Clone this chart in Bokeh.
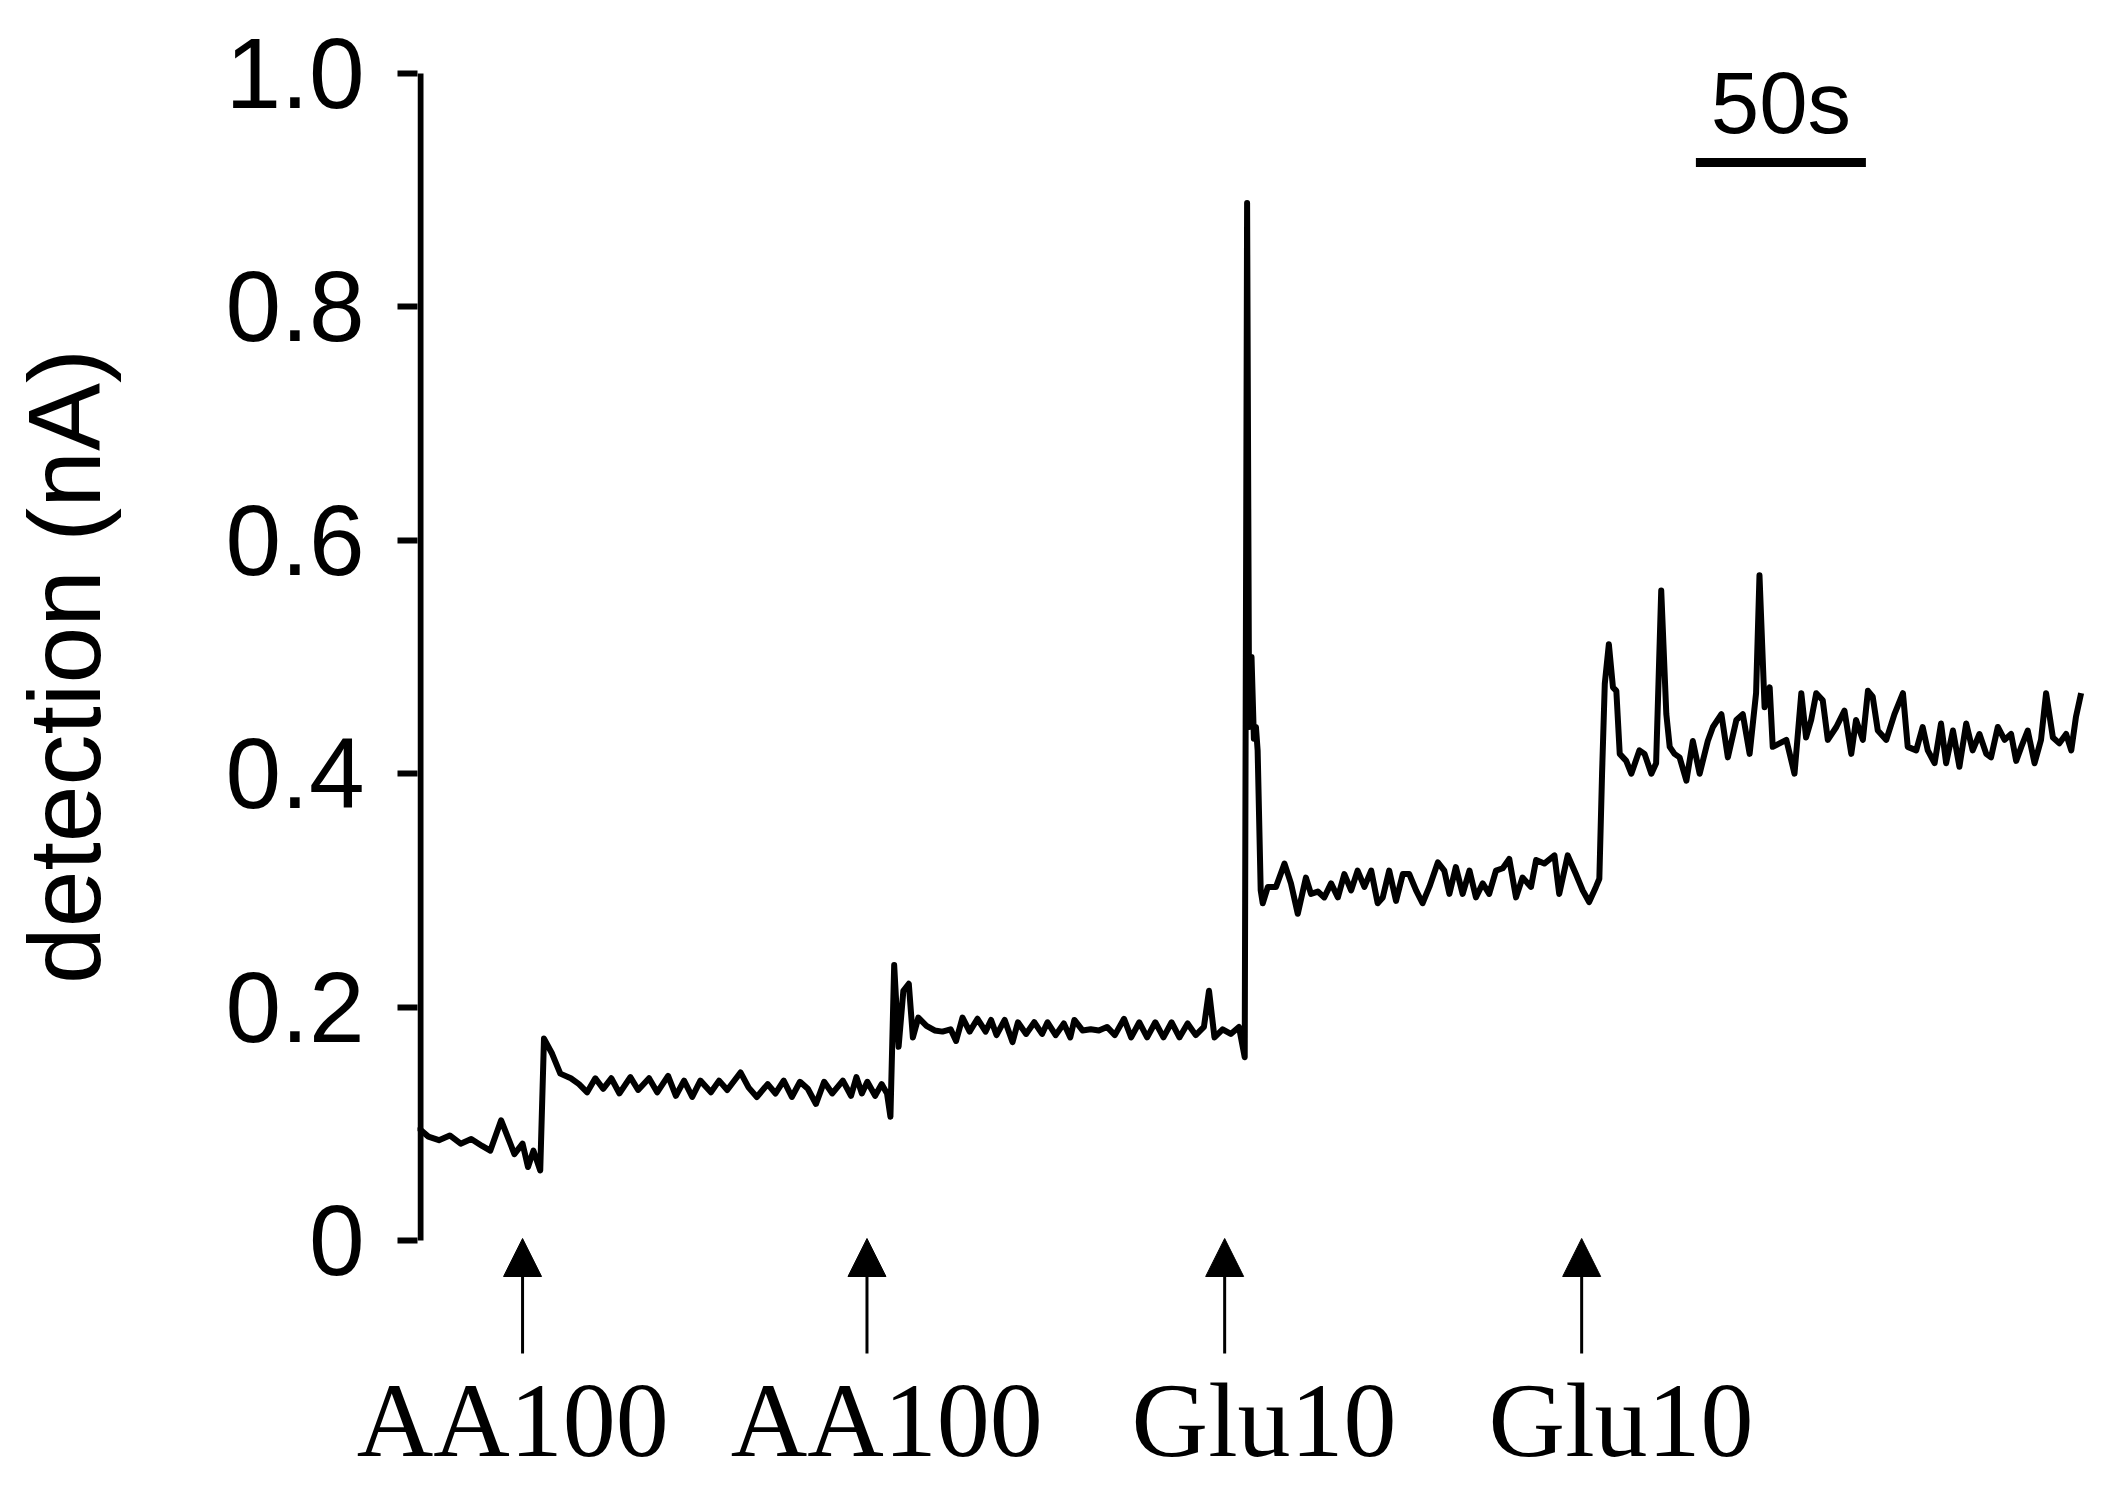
import math
from bokeh.plotting import figure
from bokeh.models import Range1d, FixedTicker, ColumnDataSource, Arrow, NormalHead
from bokeh.layouts import row
from bokeh.embed import file_html
from bokeh.resources import INLINE
from bokeh.core.properties import value

# ---------------- data ----------------
time_s = [
    0.0, 3.2, 6.3, 9.5, 12.7, 15.8, 19.0, 21.4, 24.6, 26.9, 28.5, 30.9, 32.5, 34.1, 36.1,
    37.2, 39.6, 42.0, 45.1, 47.5, 49.9, 52.3, 54.6, 57.0, 59.4, 62.6, 64.9, 68.1, 70.5,
    73.7, 76.0, 78.4, 80.8, 83.2, 86.3, 88.7, 91.1, 95.0, 97.4, 99.8, 103.0, 105.3, 107.7,
    110.1, 112.5, 114.8, 117.2, 119.6, 122.0, 125.1, 127.5, 129.1, 130.7, 132.3, 134.6,
    136.5, 138.1, 139.1,
    140.2, 141.5, 142.9, 144.5, 145.7, 147.3, 149.7, 152.1, 154.4, 156.8, 158.4, 160.3,
    162.4, 164.7, 167.1, 168.7, 170.3, 172.7, 175.0, 176.6, 179.0, 181.4, 183.7, 185.3,
    187.7, 190.1, 192.0, 193.2, 195.6, 198.0, 200.4, 202.8, 205.1, 207.8, 209.9, 212.3,
    214.6, 217.0, 219.4, 221.8, 224.1, 226.5, 228.9, 231.3, 232.8, 234.4, 236.8, 239.2,
    241.6, 243.3,
    244.0, 244.6, 245.3, 246.0, 246.6, 247.1, 248.0,
    248.6, 250.1, 252.5, 255.0, 256.9, 258.9, 261.3, 262.8, 264.8, 266.7, 268.7, 270.7,
    272.6, 274.6, 276.5, 278.5, 280.5, 282.4, 283.9, 285.8, 287.8, 289.8, 291.7, 293.7,
    295.6, 297.6, 300.1, 302.0, 303.5, 305.4, 307.4, 309.4, 311.3, 313.3, 315.2, 317.2,
    319.2, 321.1, 323.1, 325.0, 327.5, 329.0, 331.4, 334.4, 335.8, 338.3, 340.7, 342.7,
    344.6, 346.6,
    347.6, 348.4, 349.2, 350.4, 351.6, 352.6, 353.6, 355.5, 357.0, 359.4, 360.9, 362.9,
    364.3, 365.8, 367.3, 368.3, 369.7, 371.2, 373.2, 375.1, 377.1, 379.5, 381.0, 383.5,
    385.4, 387.9, 389.8, 391.8, 393.7, 394.7, 396.2, 397.7, 398.6, 400.6, 402.6, 405.0,
    407.0, 408.4, 409.9, 411.4, 413.3, 414.8, 417.3, 419.7, 421.7, 423.1, 425.1, 426.6,
    428.0, 429.5, 432.0, 434.4, 436.9, 438.3, 440.8, 442.7, 444.2, 446.2, 448.1, 449.6,
    451.6, 453.5, 455.5, 457.4, 459.4, 461.4, 462.8, 464.8, 466.8, 468.7, 470.2, 471.7,
    473.6, 475.6, 477.5, 479.0, 481.0, 482.9, 484.9, 486.4, 487.8, 489.3,
]

current_nA = [
    0.097, 0.089, 0.086, 0.090, 0.083, 0.087, 0.081, 0.077, 0.103, 0.086, 0.074, 0.083, 0.063, 0.077, 0.060,
    0.173, 0.160, 0.143, 0.139, 0.134, 0.127, 0.139, 0.130, 0.139, 0.126, 0.140, 0.129, 0.139, 0.127,
    0.141, 0.124, 0.137, 0.123, 0.137, 0.127, 0.137, 0.129, 0.144, 0.131, 0.123, 0.134, 0.126, 0.137,
    0.123, 0.136, 0.130, 0.117, 0.136, 0.126, 0.137, 0.124, 0.140, 0.126, 0.136, 0.124,
    0.134, 0.126, 0.106,
    0.236, 0.166, 0.214, 0.220, 0.174, 0.191, 0.184, 0.180, 0.179, 0.181, 0.171, 0.191,
    0.179, 0.190, 0.179, 0.189, 0.176, 0.189, 0.170, 0.187, 0.177, 0.187, 0.177, 0.187,
    0.176, 0.186, 0.174, 0.189, 0.180, 0.181, 0.180, 0.183, 0.176, 0.190, 0.174, 0.187,
    0.174, 0.187, 0.174, 0.187, 0.174, 0.186, 0.176, 0.183, 0.214, 0.174, 0.181, 0.177,
    0.183, 0.157,
    0.889, 0.440, 0.500, 0.430, 0.440, 0.420, 0.300,
    0.289, 0.303, 0.303, 0.323, 0.306, 0.280, 0.311, 0.297, 0.299, 0.294, 0.306, 0.294,
    0.314, 0.300, 0.317, 0.303, 0.317, 0.289, 0.294, 0.317, 0.291, 0.314, 0.314, 0.300,
    0.289, 0.303, 0.324, 0.317, 0.297, 0.320, 0.297, 0.317, 0.294, 0.306, 0.297, 0.317,
    0.319, 0.327, 0.294, 0.311, 0.303, 0.326, 0.323, 0.330, 0.297, 0.330, 0.314, 0.300,
    0.290, 0.303,
    0.310, 0.400, 0.477, 0.511, 0.474, 0.471, 0.417, 0.411, 0.400, 0.420, 0.417, 0.400,
    0.409, 0.557, 0.451, 0.423, 0.417, 0.414, 0.394, 0.428, 0.400, 0.428, 0.440, 0.451,
    0.414, 0.446, 0.451, 0.417, 0.469, 0.570, 0.457, 0.474, 0.423, 0.426, 0.429, 0.400,
    0.469, 0.431, 0.446, 0.469, 0.463, 0.429, 0.440, 0.454, 0.417, 0.446, 0.429, 0.471,
    0.466, 0.437, 0.429, 0.451, 0.469, 0.423, 0.420, 0.440, 0.420, 0.409, 0.443, 0.409,
    0.437, 0.406, 0.443, 0.420, 0.434, 0.417, 0.414, 0.440, 0.429, 0.434, 0.411, 0.423,
    0.437, 0.409, 0.429, 0.469, 0.431, 0.426, 0.434, 0.420, 0.449, 0.469,
]

y_ticks = [0, 0.2, 0.4, 0.6, 0.8, 1.0]
y_tick_labels = ["0", "0.2", "0.4", "0.6", "0.8", "1.0"]
y_label = "detection (nA)"

injection_times = [30.9, 132.2, 237.4, 342.4]
injection_labels = ["AA100", "AA100", "Glu10", "Glu10"]
injection_label_times = [28, 138, 249, 354]

scale_bar_start = 376.0
scale_bar_seconds = 50.0
scale_bar_text = "50s"

# ---------------- layout (pixels) ----------------
W, H = 2115, 1488
LAB_W = 130           # width of the strip holding the y-axis title
LEFT = 417            # page x of the y axis
PX_PER_S = 3.4
PX_PER_NA = 1167.0    # 0 -> 1.0 nA spans 1167 px
Y0_PX = 1240          # page y of 0 nA
FRAME_B = 1358        # page y of the bottom of the plotting frame


def px_to_na(page_y):
    return (Y0_PX - page_y) / PX_PER_NA


# ---------- main figure ----------
p = figure(width=W - LAB_W, height=H,
           x_range=Range1d(0, (W - LEFT) / PX_PER_S),
           y_range=Range1d(px_to_na(FRAME_B), px_to_na(0)),
           output_backend="svg", toolbar_location=None,
           min_border_left=LEFT - LAB_W, min_border_right=0,
           min_border_top=0, min_border_bottom=H - FRAME_B)
p.grid.visible = False
p.outline_line_color = None
p.background_fill_color = "white"
p.border_fill_color = "white"

ax = p.yaxis[0]
ax.ticker = FixedTicker(ticks=y_ticks)
ax.major_label_overrides = {t: l for t, l in zip(y_ticks, y_tick_labels)}
ax.axis_line_color = None
ax.major_tick_line_width = 6
ax.major_tick_line_color = "black"
ax.major_tick_out = 20
ax.major_tick_in = 0
ax.minor_tick_line_color = None
ax.major_label_text_font = "Liberation Sans"
ax.major_label_text_font_size = "100px"
ax.major_label_text_color = "black"
ax.major_label_standoff = 33

# bottom axis carries the injection names as tick labels
bx = p.xaxis[0]
bx.ticker = FixedTicker(ticks=injection_label_times)
bx.major_label_overrides = {t: l for t, l in zip(injection_label_times, injection_labels)}
bx.axis_line_color = None
bx.major_tick_line_color = None
bx.minor_tick_line_color = None
bx.major_tick_out = 0
bx.major_tick_in = 0
bx.major_label_standoff = 3
bx.major_label_text_font = "Liberation Serif"
bx.major_label_text_font_size = "106px"
bx.major_label_text_color = "black"

# visible axis line only from 0 to 1.0
axis_x = 3.0 / PX_PER_S
p.segment(x0=[axis_x], x1=[axis_x], y0=[y_ticks[0]], y1=[y_ticks[-1]],
          line_width=6, line_color="black")

# current trace
p.line(time_s, current_nA, line_width=6, line_color="black", line_join="round")

# 50 s scale bar
p.segment(x0=[scale_bar_start], x1=[scale_bar_start + scale_bar_seconds],
          y0=[px_to_na(162)], y1=[px_to_na(162)], line_width=9, line_color="black")
p.text(x=[scale_bar_start + scale_bar_seconds / 2], y=[px_to_na(102)], text=[scale_bar_text],
       text_font=value("Liberation Sans"), text_font_size="87px", text_color="black",
       text_align="center", text_baseline="middle")

# injection arrows
n = len(injection_times)
arrow_src = ColumnDataSource(dict(x=injection_times,
                                  y0=[px_to_na(1353)] * n,
                                  y1=[px_to_na(1238)] * n))
p.add_layout(Arrow(end=NormalHead(size=38, fill_color="black", line_color="black", line_width=1),
                   x_start="x", y_start="y0", x_end="x", y_end="y1", source=arrow_src,
                   line_width=3, line_color="black"))

# ---------- strip with the y-axis title ----------
lab = figure(width=LAB_W, height=H,
             x_range=Range1d(0, LAB_W),
             y_range=Range1d(px_to_na(FRAME_B), px_to_na(0)),
             output_backend="svg", toolbar_location=None,
             x_axis_location=None, y_axis_location=None,
             min_border_left=0, min_border_right=0,
             min_border_top=0, min_border_bottom=H - FRAME_B)
lab.grid.visible = False
lab.outline_line_color = None
lab.background_fill_color = "white"
lab.border_fill_color = "white"
lab.text(x=[64], y=[px_to_na(666)], text=[y_label], angle=math.pi / 2,
         text_font=value("Liberation Sans"), text_font_size="102px", text_color="black",
         text_align="center", text_baseline="middle")

layout = row(lab, p, spacing=0)
open("out.html", "w").write(file_html(layout, INLINE))
